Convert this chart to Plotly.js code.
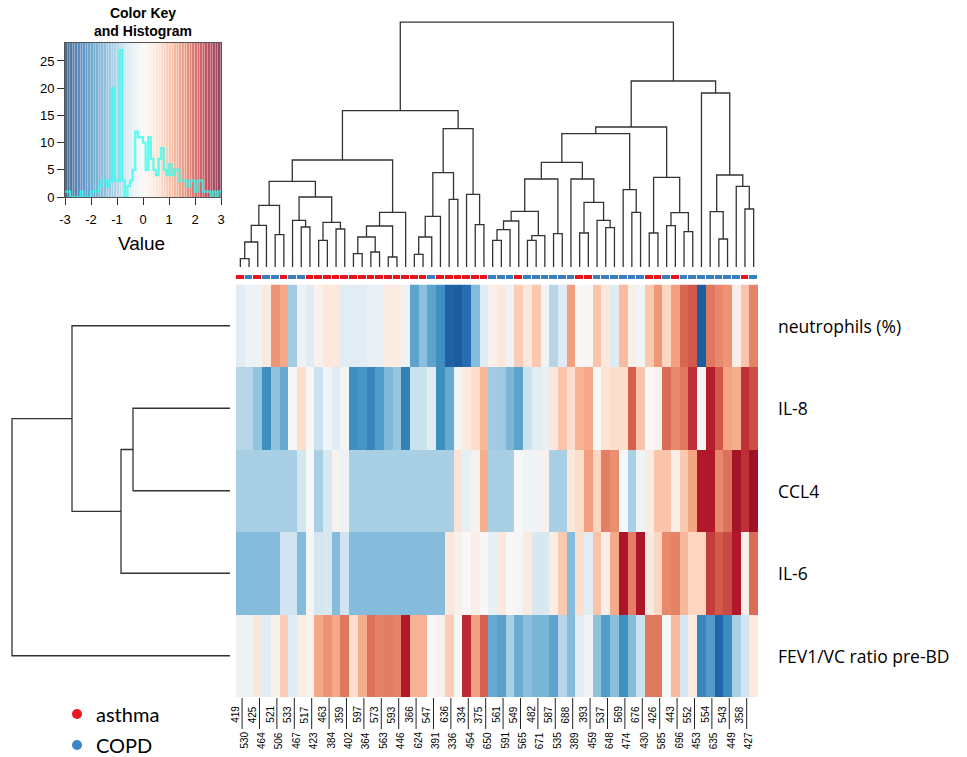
<!DOCTYPE html>
<html>
<head>
<meta charset="utf-8">
<script src="https://cdn.plot.ly/plotly-3.0.1.min.js"></script>
<style>html,body{margin:0;padding:0;background:#fff}#chart{width:967px;height:757px}</style>
</head>
<body>
<div id="chart"></div>
<script>
// ---------- data ----------
const rowNames = ['neutrophils (%)', 'IL-8', 'CCL4', 'IL-6', 'FEV1/VC ratio pre-BD'];
const colLabels = ['419','530','425','464','521','506','533','467','517','423',
  '463','384','359','402','597','364','573','563','593','446',
  '366','624','547','391','636','336','334','454','375','650',
  '561','591','549','565','482','671','587','535','688','389',
  '393','459','537','648','569','474','676','430','426','585',
  '443','696','552','453','554','635','543','449','358','427'];
const colGroup = ['asthma','COPD','asthma','COPD','COPD','asthma','COPD','COPD','asthma','asthma',
  'asthma','asthma','asthma','asthma','asthma','asthma','asthma','asthma','asthma','asthma',
  'asthma','asthma','COPD','asthma','asthma','asthma','asthma','asthma','asthma','COPD',
  'COPD','COPD','asthma','COPD','COPD','COPD','COPD','COPD','COPD','asthma',
  'asthma','COPD','COPD','COPD','COPD','COPD','COPD','asthma','asthma','COPD',
  'asthma','COPD','COPD','COPD','COPD','COPD','COPD','COPD','asthma','COPD'];

const neutrophils = [-0.3,-0.15,-0.15,0.3,1.35,1.15,-0.9,-0.15,-0.3,0.1,
  0.35,0.35,-0.3,-0.3,-0.3,-0.2,-0.2,0.25,0.25,-0.15,
  -1.55,-1.1,-1.55,-1.85,-2.45,-2.5,-2.3,-1.15,-0.35,0.15,
  0.35,-0.15,0.75,0.35,0.8,-0.1,-0.75,-0.35,1.25,0.0,
  0.05,0.85,0.35,-0.35,0.95,0.2,-0.1,0.8,1.3,0.65,
  1.25,1.75,1.85,-2.5,1.6,1.45,1.35,0.2,0.85,1.5];
const il8 = [-0.75,-0.75,-1.05,-1.85,-1.05,-1.45,0.0,0.55,0.0,-0.6,
  -0.1,-0.35,-0.05,-1.85,-1.75,-2.0,-1.65,-1.2,-1.0,-2.05,
  -0.6,-0.6,-0.3,-1.85,-1.45,-0.1,0.3,0.55,1.0,-0.9,
  -0.95,-1.25,-1.55,-0.6,-0.3,-0.2,0.35,0.85,0.55,1.05,
  1.15,0.0,0.4,0.55,0.55,1.8,0.85,0.0,0.1,1.7,
  1.45,1.6,2.2,-0.05,2.35,1.85,1.2,1.1,2.2,1.95];
const ccl4 = [-0.85,-0.85,-0.85,-0.85,-0.85,-0.85,-0.85,-0.5,0.0,-0.85,
  -0.45,0.1,-0.15,-0.85,-0.85,-0.85,-0.85,-0.85,-0.85,-0.85,
  -0.85,-0.85,-0.85,-0.85,-0.85,0.4,-0.25,0.1,1.1,-0.85,
  -0.85,-0.85,0.0,-0.1,-0.1,0.15,-0.85,-0.85,0.35,0.55,
  1.25,0.65,1.55,1.4,0.0,-0.85,-0.15,0.25,0.85,0.85,
  0.2,0.8,1.2,2.4,2.4,1.45,1.65,2.5,2.2,2.55];
const il6 = [-1.15,-1.15,-1.15,-1.15,-1.15,-0.55,-0.55,-1.15,-0.05,-0.5,
  -0.45,-1.15,-0.55,-1.15,-1.15,-1.15,-1.15,-1.15,-1.15,-1.15,
  -1.15,-1.15,-1.15,-1.15,0.35,0.15,0.0,0.2,0.0,-0.25,
  0.35,0.0,-0.05,0.3,-0.45,-0.45,0.25,0.8,-1.15,0.5,
  -0.3,0.85,0.2,1.15,2.45,1.55,2.45,0.3,0.65,1.45,
  1.5,1.0,0.65,0.65,2.1,1.85,2.0,2.4,0.15,1.7];
const fev1 = [-0.15,-0.15,0.35,-0.3,0.1,0.75,-0.35,0.25,0.1,1.15,
  1.35,1.15,1.6,0.55,1.1,1.65,1.5,1.55,1.5,2.4,
  1.05,1.05,0.0,0.15,0.75,0.0,2.25,1.25,1.8,-1.45,
  -1.6,-0.85,-1.4,-1.1,-1.25,-1.25,-1.55,-0.75,-1.15,-0.3,
  -0.1,-1.05,-1.65,-1.1,-1.85,-1.15,-0.6,1.6,1.6,0.0,
  0.95,-0.45,0.25,-2.0,-1.65,-2.4,-1.9,-0.85,-0.55,0.3];

// histogram counts (bins of width 0.1 from -3 to 3)
const histCounts = [1,1,0,0,0,0,1,0,0,0,
  1,1,1,2,3,3,2,3,20,3,
  3,27,3,0,2,3,5,12,11,11,
  10,5,11,7,5,4,7,9,5,4,
  6,4,5,5,3,3,3,2,3,3,
  1,3,3,1,1,1,0,1,0,1];

// dendrograms (hclust style: negative = leaf, positive = earlier merge, then height)
const colMerges = [
  [-1,-2,25],[1,-3,75],[2,-4,125],[-5,-6,97],[3,4,185],[-8,-9,120],[-7,6,140],
  [-10,-11,80],[-12,-13,114],[8,9,134],[7,10,210],[5,11,257],[-14,-15,40],[-16,-17,45],
  [13,14,90],[-18,-19,30],[15,16,123],[17,-20,164],[12,18,321],[-21,-22,38],[20,-23,90],
  [21,-24,152],[-25,-26,203],[22,23,283],[-28,-29,127],[-27,25,218],[24,26,415],[19,27,469],
  [-30,-31,80],[29,-32,112],[30,-33,138],[-34,-35,80],[32,-36,94],[31,33,167],[-37,-38,100],
  [34,35,264],[-40,-41,102],[-43,-44,118],[-42,38,140],[37,39,194],[-39,40,264],[36,41,314],
  [-46,-47,164],[-45,43,232],[42,44,400],[-48,-49,102],[-50,-51,124],[-52,-53,106],[47,48,163],
  [46,49,269],[45,50,420],[-56,-57,84],[-55,52,166],[-59,-60,174],[-58,54,242],[53,55,276],
  [-54,56,522],[51,57,558],[28,58,735]];
const rowMerges = [[-2,-3,97],[1,-4,109],[-1,2,158],[3,-5,218]];

// ---------- helpers ----------
function dendro(merges) {
  const pos = [], hgt = [], a = [], h = [];
  const info = id => id < 0 ? {p: -id - 1, h: 0} : {p: pos[id - 1], h: hgt[id - 1]};
  merges.forEach((m, k) => {
    const A = info(m[0]), B = info(m[1]);
    a.push(A.p, A.p, B.p, B.p, null);
    h.push(A.h, m[2], m[2], B.h, null);
    pos[k] = (A.p + B.p) / 2; hgt[k] = m[2];
  });
  return {pos: a, h: h};
}
const W = 967, H = 757;
const px = v => v / W, py = v => 1 - v / H;

const zMain = [neutrophils, il8, ccl4, il6, fev1];
const rdbu = [[0,'#053061'],[0.1,'#2166ac'],[0.2,'#4393c3'],[0.3083,'#86bcdb'],[0.3583,'#a8cfe4'],
  [0.4083,'#d1e5f0'],[0.5,'#f7f7f7'],[0.6,'#fddbc7'],[0.7,'#f4a582'],[0.8,'#d6604d'],
  [0.9,'#b2182b'],[1,'#67001f']];

// step line of the histogram and colour-key stripes
const nb = histCounts.length;
const edges = [], hy = [], keyZ = [];
for (let k = 0; k <= nb; k++) { edges.push(-3 + k * 6 / nb); hy.push(histCounts[Math.min(k, nb - 1)]); }
for (let k = 0; k < nb; k++) keyZ.push(-3 + (k + 0.5) * 6 / nb);

const cd = dendro(colMerges), rd = dendro(rowMerges);

const traces = [
  {type:'heatmap', z:zMain, xaxis:'x', yaxis:'y', colorscale:rdbu, zmin:-3, zmax:3, showscale:false, hoverinfo:'skip'},
  {type:'heatmap', z:[colGroup.map(g => g === 'asthma' ? 0 : 1)], xaxis:'x', yaxis:'y2',
   colorscale:[[0,'#e8151b'],[0.5,'#e8151b'],[0.5,'#3b7ec1'],[1,'#3b7ec1']], zmin:0, zmax:1,
   showscale:false, xgap:1, hoverinfo:'skip'},
  {type:'scatter', mode:'lines', x:cd.pos, y:cd.h, xaxis:'x', yaxis:'y3',
   line:{color:'#333', width:1.3}, hoverinfo:'skip', connectgaps:false},
  {type:'scatter', mode:'lines', x:rd.h, y:rd.pos, xaxis:'x4', yaxis:'y',
   line:{color:'#333', width:1.3}, hoverinfo:'skip', connectgaps:false},
  {type:'heatmap', z:[keyZ], x0:-3 + 3 / nb, dx:6 / nb, y0:14.15, dy:28.3, xaxis:'x5', yaxis:'y5',
   colorscale:rdbu, zmin:-3, zmax:3, showscale:false, xgap:0.35, opacity:0.72, hoverinfo:'skip'},
  {type:'scatter', mode:'lines', x:edges, y:hy, xaxis:'x5', yaxis:'y5',
   line:{shape:'hv', color:'rgba(40,255,240,0.75)', width:2.2}, hoverinfo:'skip'}
];

const hidden = {showgrid:false, zeroline:false, showticklabels:false, ticks:'', showline:false, fixedrange:true};
const tickFont = {family:'Liberation Sans, Arial', size:13, color:'#000'};

const annotations = [];
const shapes = [];
colLabels.forEach((lab, i) => {
  const top = i % 2 === 0;
  annotations.push({text:lab, x:i, xref:'x', y: top ? py(705) : py(731), yref:'paper',
    xanchor:'center', yanchor:'top', textangle:-90, showarrow:false, xshift:-5, borderpad:0,
    font:{family:'Liberation Sans, Arial', size:10, color:'#000'}});
  if (!top) shapes.push({type:'line', xref:'x', yref:'paper', x0:i - 0.8, x1:i - 0.8,
    y0:py(698), y1:py(729), line:{color:'#222', width:1}});
});
rowNames.forEach((n, r) => annotations.push({text:n, x:px(776), xref:'paper', y:r, yref:'y',
  xanchor:'left', yanchor:'middle', showarrow:false, font:{family:'Open Sans', size:17.5, color:'#000'}}));
annotations.push({text:'<b>Color Key</b><br><b>and Histogram</b>', x:px(143), y:py(22.5), xref:'paper', yref:'paper',
  xanchor:'center', yanchor:'middle', showarrow:false, font:{family:'Liberation Sans, Arial', size:14, color:'#000'}});
annotations.push({text:'Value', x:px(141), y:py(243), xref:'paper', yref:'paper', xanchor:'center', yanchor:'middle',
  showarrow:false, font:{family:'Liberation Sans, Arial', size:19, color:'#000'}});
[['asthma','#e8191f',714],['COPD','#3c84c7',745]].forEach(([t, c, y]) => {
  shapes.push({type:'circle', xref:'paper', yref:'paper', x0:px(72), x1:px(82), y0:py(y + 5), y1:py(y - 5),
    fillcolor:c, line:{width:0}});
  annotations.push({text:t, x:px(94), y:py(y), xref:'paper', yref:'paper', xanchor:'left', yanchor:'middle',
    showarrow:false, font:{family:'Lato', size:20, color:'#000'}});
});

const layout = {
  width:W, height:H, margin:{l:0, r:0, t:0, b:0}, paper_bgcolor:'#fff', plot_bgcolor:'rgba(0,0,0,0)',
  showlegend:false, font:{family:'Liberation Sans, Arial'},
  xaxis: Object.assign({domain:[px(236), px(758)], range:[-0.5, 59.5], anchor:'y'}, hidden),
  yaxis: Object.assign({domain:[py(697), py(284.5)], range:[4.5, -0.5], anchor:'x'}, hidden),
  yaxis2: Object.assign({domain:[py(279), py(275)], range:[-0.5, 0.5], anchor:'x'}, hidden),
  yaxis3: Object.assign({domain:[py(268), py(18.7)], range:[-3, 745], anchor:'x'}, hidden),
  xaxis4: Object.assign({domain:[px(8), px(231)], range:[222, -1], anchor:'y'}, hidden),
  xaxis5: {domain:[px(65), px(221)], range:[-3, 3], anchor:'y5', tickvals:[-3,-2,-1,0,1,2,3],
    ticktext:['-3','-2','-1','0','1','2','3'], ticks:'outside', ticklen:7, tickcolor:'#333',
    showline:true, mirror:true, linecolor:'#555', linewidth:1, showgrid:false, zeroline:false,
    tickfont:tickFont, ticklabelstandoff:3, fixedrange:true},
  yaxis5: {domain:[py(197), py(43)], range:[0, 28.3], anchor:'x5', tickvals:[0,5,10,15,20,25],
    ticks:'outside', ticklen:7, tickcolor:'#333', showline:true, mirror:true, linecolor:'#555', linewidth:1,
    showgrid:false, zeroline:false, tickfont:tickFont, fixedrange:true},
  annotations: annotations,
  shapes: shapes
};

Plotly.newPlot('chart', traces, layout, {staticPlot:true, displayModeBar:false});
</script>
</body>
</html>
